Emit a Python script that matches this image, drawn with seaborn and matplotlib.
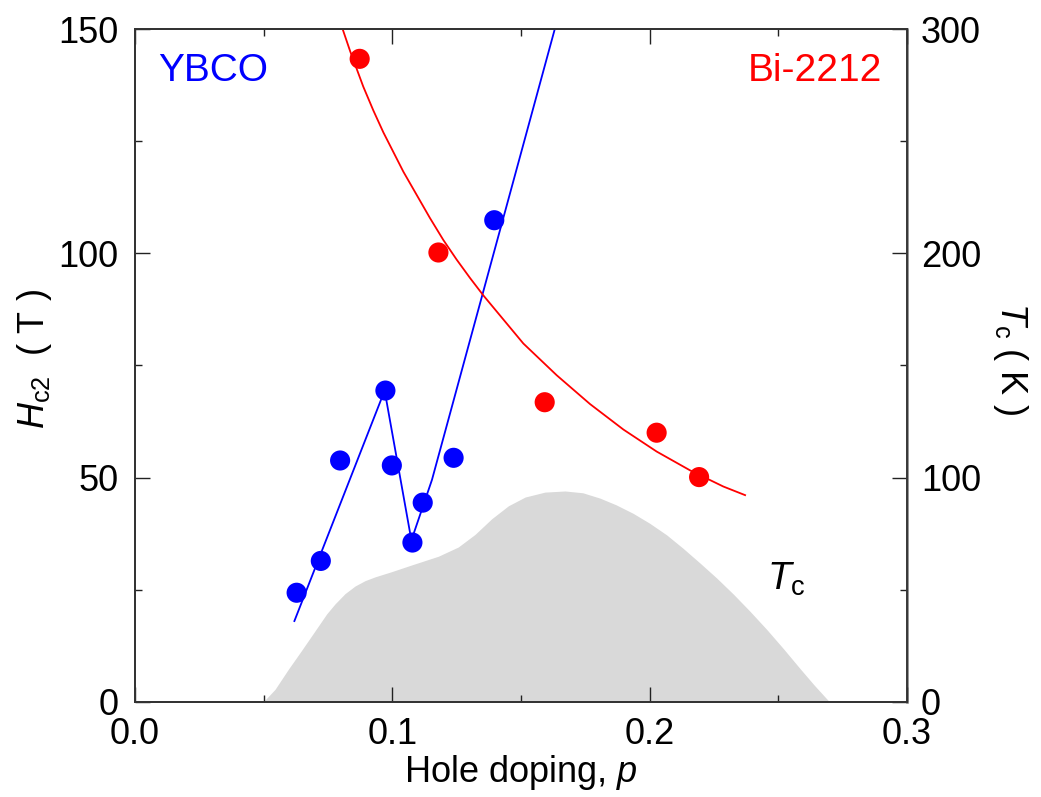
import numpy as np
import pandas as pd
import matplotlib
matplotlib.use("Agg")
import matplotlib.pyplot as plt
import seaborn as sns

# ---- data ----
ybco_p = [0.0628, 0.0722, 0.0797, 0.0973, 0.0998, 0.1078, 0.1118, 0.1238, 0.1396]
ybco_h = [24.3, 31.4, 53.8, 69.4, 52.7, 35.5, 44.4, 54.4, 107.4]

ybco_line_p = [0.0618, 0.0970, 0.1074, 0.1154, 0.1631]
ybco_line_h = [17.8, 69.4, 36.0, 49.5, 150.0]

bi_p = [0.0873, 0.1179, 0.1592, 0.2027, 0.2192]
bi_h = [143.4, 100.2, 66.8, 60.0, 50.1]

bi_line_p = [0.0807, 0.0836, 0.0887, 0.0926, 0.0965, 0.1043, 0.1095, 0.1146, 0.1198,
             0.1250, 0.1302, 0.1354, 0.1509, 0.1639, 0.1768, 0.1898, 0.2027, 0.2157,
             0.2286, 0.2374]
bi_line_h = [150.0, 145.1, 137.2, 131.9, 127.0, 118.2, 113.0, 107.9, 103.0,
             98.6, 94.5, 90.6, 79.9, 72.8, 66.4, 60.7, 55.8, 51.6,
             48.0, 46.0]

dome_p = [0.0499, 0.0544, 0.0596, 0.0645, 0.0687, 0.0745, 0.0777, 0.0816, 0.0855,
          0.0894, 0.0933, 0.0997, 0.1075, 0.1179, 0.1256, 0.1321, 0.1386, 0.1451,
          0.1516, 0.1593, 0.1671, 0.1740, 0.1807, 0.1870, 0.1936, 0.2000, 0.2066,
          0.2130, 0.2196, 0.2260, 0.2325, 0.2390, 0.2455, 0.2520, 0.2584, 0.2640,
          0.2698]
dome_tc = [0.0, 5.5, 14.5, 22.5, 29.5, 39.2, 43.6, 48.2, 51.6,
           54.0, 55.7, 58.0, 61.0, 64.9, 69.0, 74.6, 81.6, 87.4,
           91.3, 93.5, 94.0, 93.2, 90.8, 87.8, 84.0, 79.6, 74.4,
           68.4, 61.8, 55.2, 48.0, 40.3, 32.2, 23.6, 14.8, 7.3,
           0.0]

x_ticks = [0.0, 0.1, 0.2, 0.3]
x_tick_labels = ["0.0", "0.1", "0.2", "0.3"]
left_ticks = [0, 50, 100, 150]
right_ticks = [0, 100, 200, 300]

# ---- style ----
sns.set_theme(style="ticks")
plt.rcParams['font.family'] = ['Liberation Sans', 'DejaVu Sans']
plt.rcParams['mathtext.fontset'] = 'custom'
plt.rcParams['mathtext.rm'] = 'Liberation Sans'
plt.rcParams['mathtext.it'] = 'Liberation Sans:italic'
plt.rcParams['text.color'] = 'black'
plt.rcParams['axes.labelcolor'] = 'black'
plt.rcParams['xtick.color'] = 'black'
plt.rcParams['ytick.color'] = 'black'
plt.rcParams['lines.solid_capstyle'] = 'butt'
plt.rcParams['lines.solid_joinstyle'] = 'round'

FS = 26
fig = plt.figure(figsize=(10.41, 7.97), dpi=100)
ax = fig.add_axes([0.1297, 0.1196, 0.7416, 0.8437])
ax2 = ax.twinx()
ax.set_zorder(ax2.get_zorder() + 1)
ax.patch.set_visible(False)

# Tc dome on right axis (behind)
ax2.fill_between(dome_p, dome_tc, 0, color="#d9d9d9", linewidth=0)

df_yl = pd.DataFrame({"p": ybco_line_p, "h": ybco_line_h})
df_bl = pd.DataFrame({"p": bi_line_p, "h": bi_line_h})
df_y = pd.DataFrame({"p": ybco_p, "h": ybco_h})
df_b = pd.DataFrame({"p": bi_p, "h": bi_h})

sns.lineplot(data=df_yl, x="p", y="h", ax=ax, color="#0000ff", lw=1.3,
             sort=False, estimator=None)
sns.lineplot(data=df_bl, x="p", y="h", ax=ax, color="#ff0000", lw=1.3,
             sort=False, estimator=None)
sns.scatterplot(data=df_y, x="p", y="h", ax=ax, color="#0000ff", s=210,
                edgecolor="none", zorder=3)
sns.scatterplot(data=df_b, x="p", y="h", ax=ax, color="#ff0000", s=210,
                edgecolor="none", zorder=3)

ax.set_xlim(0, 0.3)
ax.set_ylim(0, 150)
ax2.set_ylim(0, 300)

ax.set_xticks(x_ticks)
ax.set_xticklabels(x_tick_labels)
ax.set_xticks([0.05, 0.15, 0.25], minor=True)
ax.set_yticks(left_ticks)
ax.set_yticks([25, 75, 125], minor=True)
ax2.set_yticks(right_ticks)
ax2.set_yticks([50, 150, 250], minor=True)

ax.tick_params(axis="both", which="major", direction="in", length=11, width=1.0,
               labelsize=FS, top=True, right=False, color="#222222")
ax.tick_params(axis="both", which="minor", direction="in", length=5, width=1.0,
               top=True, right=False, color="#222222")
ax.tick_params(axis="y", pad=12)
ax.tick_params(axis="x", pad=11)
ax2.tick_params(axis="y", which="major", direction="in", length=11, width=1.0,
                labelsize=FS, pad=10, color="#222222")
ax2.tick_params(axis="y", which="minor", direction="in", length=5, width=1.0,
                color="#222222")

for a in (ax, ax2):
    for s in a.spines.values():
        s.set_linewidth(1.3)
        s.set_color("#333333")
ax2.spines["right"].set_color("#777777")
ax2.spines["right"].set_linewidth(1.8)

ax.set_xlabel(r"Hole doping, $p$", fontsize=FS)
ax.xaxis.label.set_va("top")
ax.xaxis.set_label_coords(0.5, -0.076)

ax.set_ylabel(r"$H_{\rm c2}$  ( T )", fontsize=FS)
ax.yaxis.label.set_va("center")
ax.yaxis.set_label_coords(-0.13, 0.51)

ax2.set_ylabel(r"$T_{\rm c}$ ( K )", fontsize=FS, rotation=270)
ax2.yaxis.label.set_va("center")
ax2.yaxis.set_label_coords(1.134, 0.51)

ax.text(0.009, 138.4, "YBCO", color="#0000ff", fontsize=28, ha="left", va="baseline")
ax.text(0.2905, 138.4, "Bi-2212", color="#ff0000", fontsize=28, ha="right", va="baseline")
ax.text(0.2456, 24.9, r"$T_{\rm c}$", color="black", fontsize=28, ha="left", va="baseline")

fig.savefig("out.png", dpi=100)
